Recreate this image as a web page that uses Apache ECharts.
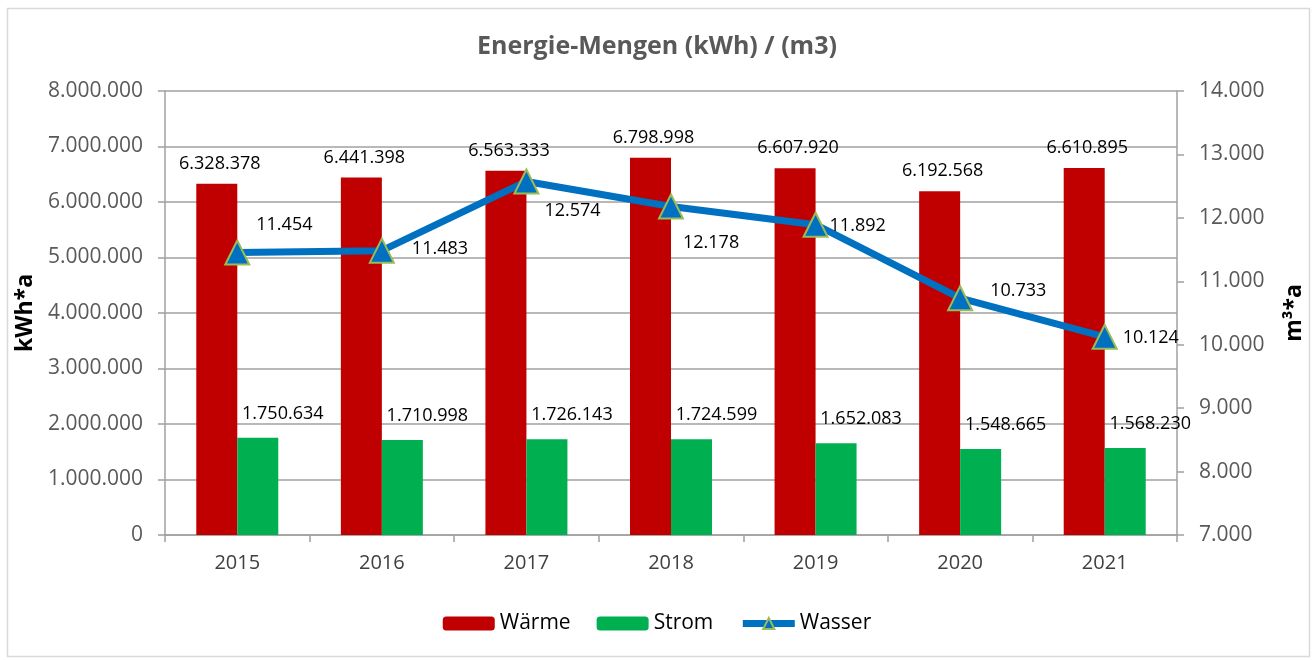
<!DOCTYPE html>
<html>
<head>
<meta charset="utf-8">
<script src="https://cdn.jsdelivr.net/npm/echarts@6/dist/echarts.min.js"></script>
<style>
html,body{margin:0;padding:0;background:#fff;}
#c{width:1314px;height:660px;}
</style>
</head>
<body>
<div id="c"></div>
<script>
var years = ['2015','2016','2017','2018','2019','2020','2021'];
var waerme = [6328378, 6441398, 6563333, 6798998, 6607920, 6192568, 6610895];
var strom = [1750634, 1710998, 1726143, 1724599, 1652083, 1548665, 1568230];
var wasser = [11454, 11483, 12574, 12178, 11892, 10733, 10124];
var wasserLabelOffsets = [[1,-28],[12,-2],[0,29],[-6,36],[-4,1],[12,-7],[0,1]];

function de(v){ return String(v).replace(/\B(?=(\d{3})+(?!\d))/g, '.'); }

var FONT = 'Open Sans';
var chart = echarts.init(document.getElementById('c'));
chart.setOption({
  animation: false,
  textStyle: { fontFamily: FONT },
  graphic: [{
    type: 'rect', left: 5, top: 6, shape: { width: 1302, height: 648 },
    style: { fill: 'none', stroke: '#D9D9D9', lineWidth: 1.5 }, silent: true
  }],
  title: {
    text: 'Energie-Mengen (kWh) / (m3)', left: 'center', top: 29,
    textStyle: { fontFamily: FONT, fontSize: 25, fontWeight: 'bold', color: '#595959' }
  },
  legend: {
    bottom: 21, left: 'center', itemWidth: 52, itemHeight: 14, itemGap: 26,
    textStyle: { fontFamily: FONT, fontSize: 21, color: '#000' },
    lineStyle: { width: 7 },
    data: ['Wärme', 'Strom', 'Wasser']
  },
  grid: { left: 165, right: 137, top: 91, bottom: 125 },
  xAxis: {
    type: 'category', data: years,
    axisLine: { lineStyle: { color: '#A0A0A0', width: 1.5 } },
    axisTick: { show: true, length: 7, lineStyle: { color: '#A0A0A0', width: 1.5 } },
    axisLabel: { fontSize: 20, color: '#404040', margin: 18, fontFamily: FONT }
  },
  yAxis: [{
    type: 'value', min: 0, max: 8000000, interval: 1000000,
    name: 'kWh*a', nameLocation: 'middle', nameGap: 117,
    nameTextStyle: { fontSize: 23, fontWeight: 'bold', color: '#000', fontFamily: FONT },
    axisLine: { show: true, lineStyle: { color: '#A0A0A0', width: 1.5 } },
    axisTick: { show: true, length: 7, lineStyle: { color: '#A0A0A0', width: 1.5 } },
    splitLine: { lineStyle: { color: '#A0A0A0', width: 1.5 } },
    axisLabel: { fontSize: 21, color: '#595959', margin: 22, formatter: de, fontFamily: FONT }
  }, {
    type: 'value', min: 7000, max: 14000, interval: 1000, position: 'right',
    name: 'm³*a', nameLocation: 'middle', nameGap: 106,
    nameTextStyle: { fontSize: 23, fontWeight: 'bold', color: '#000', fontFamily: FONT },
    axisLine: { show: true, lineStyle: { color: '#A0A0A0', width: 1.5 } },
    axisTick: { show: true, length: 7, lineStyle: { color: '#A0A0A0', width: 1.5 } },
    splitLine: { show: false },
    axisLabel: { fontSize: 21, color: '#595959', margin: 22, formatter: de, fontFamily: FONT }
  }],
  series: [{
    name: 'Wärme', type: 'bar', data: waerme, barWidth: 41, barGap: '0%',
    itemStyle: { color: '#C00000' },
    label: { show: true, position: 'top', offset: [3, -6], fontSize: 18, color: '#000',
      fontFamily: FONT, formatter: function(p){ return de(p.value); } }
  }, {
    name: 'Strom', type: 'bar', data: strom, barWidth: 41,
    itemStyle: { color: '#00B050' },
    label: { show: true, position: 'top', offset: [25, -10], fontSize: 18, color: '#000',
      fontFamily: FONT, formatter: function(p){ return de(p.value); } }
  }, {
    name: 'Wasser', type: 'line', yAxisIndex: 1,
    data: wasser.map(function(v, i){
      return { value: v, label: { offset: wasserLabelOffsets[i] } };
    }),
    symbol: 'triangle', symbolSize: 24, z: 5,
    lineStyle: { color: '#0070C0', width: 7 },
    itemStyle: { color: '#0070C0', borderColor: '#9BBB59', borderWidth: 2 },
    label: { show: true, position: 'right', distance: 5, fontSize: 18, color: '#000',
      fontFamily: FONT, formatter: function(p){ return de(p.value); } }
  }]
});
</script>
</body>
</html>
